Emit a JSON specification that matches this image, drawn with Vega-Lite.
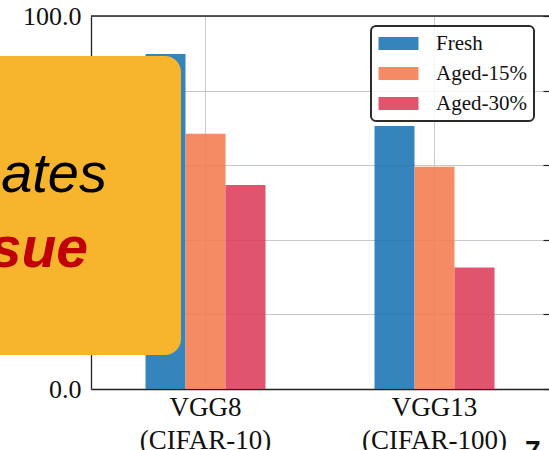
{
  "$schema": "https://vega.github.io/schema/vega-lite/v6.json",
  "width": 458,
  "height": 373,
  "autosize": {"type": "none"},
  "padding": {"left": 91, "top": 16, "right": 0, "bottom": 61},
  "background": "white",
  "config": {
    "view": {"stroke": null},
    "legend": {
      "orient": "none",
      "legendX": 280,
      "legendY": 10,
      "padding": 7,
      "strokeColor": "#2b2b2b",
      "strokeWidth": 2,
      "cornerRadius": 5,
      "fillColor": "rgba(255,255,255,0.85)",
      "symbolType": "M-2.857,-0.929H2.857V0.929H-2.857Z",
      "symbolSize": 196,
      "symbolOffset": 10,
      "symbolStrokeWidth": 0,
      "symbolOpacity": 0.9,
      "labelFont": "Liberation Serif",
      "labelFontSize": 21,
      "labelColor": "#111111",
      "labelOffset": 27,
      "rowPadding": 8
    }
  },
  "layer": [
    {
      "data": {
        "values": [
          {"model": "VGG8 (CIFAR-10)", "condition": "Fresh", "accuracy": 89.8},
          {"model": "VGG8 (CIFAR-10)", "condition": "Aged-15%", "accuracy": 68.4},
          {"model": "VGG8 (CIFAR-10)", "condition": "Aged-30%", "accuracy": 54.7},
          {"model": "VGG13 (CIFAR-100)", "condition": "Fresh", "accuracy": 70.5},
          {"model": "VGG13 (CIFAR-100)", "condition": "Aged-15%", "accuracy": 59.6},
          {"model": "VGG13 (CIFAR-100)", "condition": "Aged-30%", "accuracy": 32.6}
        ]
      },
      "mark": {"type": "bar", "opacity": 0.9},
      "encoding": {
        "x": {
          "field": "model",
          "type": "nominal",
          "sort": null,
          "scale": {"paddingInner": 0.476, "paddingOuter": 0.238},
          "axis": {
            "orient": "bottom",
            "title": null,
            "labelAngle": 0,
            "labelExpr": "split(datum.label, ' ')",
            "labelFont": "Liberation Serif",
            "labelFontSize": 27,
            "labelLineHeight": 33,
            "labelColor": "#111111",
            "labelPadding": 5,
            "ticks": false,
            "bandPosition": 0.5,
            "grid": true,
            "gridColor": "#c8c8c8",
            "gridWidth": 1,
            "domainColor": "#222222",
            "domainWidth": 1.3
          }
        },
        "xOffset": {
          "field": "condition",
          "type": "nominal",
          "sort": ["Fresh", "Aged-15%", "Aged-30%"],
          "scale": {"paddingInner": 0, "paddingOuter": 0}
        },
        "y": {
          "field": "accuracy",
          "type": "quantitative",
          "scale": {"domain": [0, 100], "nice": false},
          "axis": {
            "orient": "left",
            "title": null,
            "values": [0, 20, 40, 60, 80, 100],
            "format": ".1f",
            "labelFont": "Liberation Serif",
            "labelFontSize": 26,
            "labelColor": "#111111",
            "labelPadding": 10,
            "labelOverlap": false,
            "ticks": false,
            "grid": true,
            "gridColor": "#c8c8c8",
            "gridWidth": 1,
            "domainColor": "#222222",
            "domainWidth": 1.3
          }
        },
        "color": {
          "field": "condition",
          "type": "nominal",
          "scale": {
            "domain": ["Fresh", "Aged-15%", "Aged-30%"],
            "range": ["#1f77b4", "#f37e54", "#dd415d"]
          },
          "legend": {"title": null}
        }
      }
    },
    {
      "data": {"values": [{"edge": "top"}]},
      "mark": {"type": "rule", "color": "#222222", "strokeWidth": 1.3},
      "encoding": {
        "y": {
          "datum": 100,
          "type": "quantitative",
          "scale": {"domain": [0, 100], "nice": false},
          "axis": {
            "orient": "right",
            "title": null,
            "values": [0, 20, 40, 60, 80, 100],
            "labels": false,
            "domain": false,
            "grid": false,
            "ticks": true,
            "tickSize": -6,
            "tickColor": "#222222",
            "tickWidth": 1.2
          }
        }
      }
    },
    {
      "data": {"values": [{"note": "box"}]},
      "mark": {"type": "rect", "color": "#F7B52E", "cornerRadius": 16, "opacity": 1},
      "encoding": {
        "x": {"datum": -0.5, "type": "quantitative", "scale": {"domain": [0, 2]}, "axis": null},
        "x2": {"datum": 0.393},
        "y": {"datum": 9.1, "type": "quantitative", "scale": {"domain": [0, 100], "nice": false}, "axis": null},
        "y2": {"datum": 89.3}
      }
    },
    {
      "data": {"values": [{"label": "ates"}]},
      "mark": {"type": "text", "font": "Liberation Sans", "fontStyle": "italic", "fontSize": 56, "color": "#000000", "align": "right", "baseline": "alphabetic"},
      "encoding": {
        "text": {"field": "label"},
        "x": {"datum": 0.07, "type": "quantitative", "scale": {"domain": [0, 2]}, "axis": null},
        "y": {"datum": 52.8, "type": "quantitative", "scale": {"domain": [0, 100], "nice": false}, "axis": null}
      }
    },
    {
      "data": {"values": [{"label": "sue"}]},
      "mark": {"type": "text", "font": "Liberation Sans", "fontStyle": "italic", "fontWeight": "bold", "fontSize": 57, "color": "#C00000", "align": "right", "baseline": "alphabetic"},
      "encoding": {
        "text": {"field": "label"},
        "x": {"datum": -0.013, "type": "quantitative", "scale": {"domain": [0, 2]}, "axis": null},
        "y": {"datum": 32.7, "type": "quantitative", "scale": {"domain": [0, 100], "nice": false}, "axis": null}
      }
    },
    {
      "data": {"values": [{"label": "7"}]},
      "mark": {"type": "text", "font": "Liberation Sans", "fontWeight": "bold", "fontSize": 28, "color": "#111111", "align": "left", "baseline": "alphabetic"},
      "encoding": {
        "text": {"field": "label"},
        "x": {"datum": 1.895, "type": "quantitative", "scale": {"domain": [0, 2]}, "axis": null},
        "y": {"datum": -19.0, "type": "quantitative", "scale": {"domain": [0, 100], "nice": false}, "axis": null}
      }
    }
  ],
  "resolve": {"scale": {"x": "independent"}, "axis": {"y": "independent"}}
}
